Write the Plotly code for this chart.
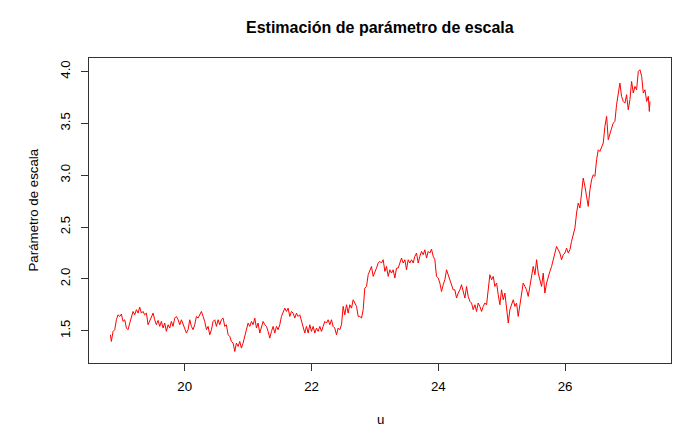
import plotly.graph_objects as go

# Threshold u and the estimated scale parameter at each threshold
u = [
    18.827, 18.842, 18.869, 18.895, 18.921, 18.947, 18.974, 19.000, 19.026, 19.053,
    19.079, 19.105, 19.132, 19.158, 19.184, 19.210, 19.237, 19.263, 19.289, 19.316,
    19.342, 19.368, 19.395, 19.421, 19.447, 19.474, 19.500, 19.526, 19.552, 19.579,
    19.605, 19.631, 19.658, 19.684, 19.710, 19.737, 19.763, 19.789, 19.815, 19.842,
    19.868, 19.894, 19.921, 19.947, 19.973, 20.000, 20.026, 20.052, 20.079, 20.105,
    20.131, 20.157, 20.184, 20.210, 20.236, 20.263, 20.289, 20.315, 20.342, 20.368,
    20.394, 20.421, 20.447, 20.473, 20.500, 20.526, 20.552, 20.578, 20.605, 20.631,
    20.657, 20.684, 20.710, 20.736, 20.763, 20.789, 20.815, 20.842, 20.868, 20.894,
    20.920, 20.947, 20.973, 20.999, 21.026, 21.052, 21.078, 21.105, 21.131, 21.157,
    21.184, 21.210, 21.236, 21.263, 21.289, 21.315, 21.341, 21.368, 21.394, 21.420,
    21.447, 21.473, 21.499, 21.526, 21.552, 21.578, 21.605, 21.631, 21.657, 21.683,
    21.710, 21.736, 21.762, 21.789, 21.815, 21.841, 21.868, 21.894, 21.920, 21.947,
    21.973, 21.999, 22.026, 22.052, 22.078, 22.104, 22.131, 22.157, 22.183, 22.210,
    22.236, 22.262, 22.289, 22.315, 22.341, 22.367, 22.394, 22.420, 22.446, 22.473,
    22.499, 22.525, 22.552, 22.578, 22.604, 22.631, 22.657, 22.683, 22.710, 22.736,
    22.762, 22.789, 22.815, 22.841, 22.868, 22.894, 22.920, 22.946, 22.973, 22.999,
    23.025, 23.052, 23.078, 23.104, 23.131, 23.157, 23.183, 23.210, 23.236, 23.262,
    23.288, 23.315, 23.341, 23.367, 23.394, 23.420, 23.446, 23.473, 23.499, 23.525,
    23.551, 23.578, 23.604, 23.630, 23.657, 23.683, 23.709, 23.736, 23.762, 23.788,
    23.815, 23.841, 23.867, 23.893, 23.920, 23.946, 23.972, 23.999, 24.025, 24.051,
    24.078, 24.104, 24.130, 24.157, 24.183, 24.209, 24.235, 24.262, 24.288, 24.314,
    24.341, 24.367, 24.393, 24.420, 24.446, 24.472, 24.499, 24.525, 24.551, 24.578,
    24.604, 24.630, 24.656, 24.683, 24.709, 24.735, 24.762, 24.788, 24.814, 24.841,
    24.867, 24.893, 24.920, 24.946, 24.972, 24.998, 25.025, 25.051, 25.077, 25.104,
    25.130, 25.156, 25.183, 25.209, 25.235, 25.261, 25.288, 25.314, 25.340, 25.367,
    25.393, 25.419, 25.446, 25.472, 25.498, 25.525, 25.551, 25.577, 25.603, 25.630,
    25.656, 25.682, 25.709, 25.735, 25.761, 25.788, 25.814, 25.840, 25.866, 25.893,
    25.919, 25.945, 25.972, 25.998, 26.024, 26.051, 26.077, 26.103, 26.130, 26.156,
    26.182, 26.208, 26.235, 26.261, 26.287, 26.314, 26.340, 26.366, 26.393, 26.419,
    26.445, 26.472, 26.498, 26.524, 26.550, 26.577, 26.603, 26.629, 26.656, 26.682,
    26.708, 26.735, 26.761, 26.787, 26.813, 26.840, 26.866, 26.892, 26.919, 26.945,
    26.971, 26.998, 27.024, 27.050, 27.077, 27.103, 27.129, 27.156, 27.182, 27.209,
    27.235, 27.261, 27.288, 27.314, 27.330, 27.340,
]

escala = [
    1.461, 1.397, 1.494, 1.510, 1.606, 1.654, 1.638, 1.661, 1.590, 1.606,
    1.526, 1.510, 1.574, 1.622, 1.686, 1.654, 1.703, 1.670, 1.728, 1.670,
    1.686, 1.654, 1.670, 1.558, 1.590, 1.638, 1.670, 1.606, 1.558, 1.600,
    1.542, 1.590, 1.526, 1.574, 1.494, 1.558, 1.526, 1.590, 1.542, 1.622,
    1.638, 1.606, 1.558, 1.606, 1.558, 1.526, 1.478, 1.510, 1.606, 1.542,
    1.510, 1.558, 1.638, 1.622, 1.654, 1.686, 1.638, 1.590, 1.510, 1.542,
    1.461, 1.510, 1.590, 1.606, 1.542, 1.606, 1.558, 1.606, 1.622, 1.542,
    1.558, 1.461, 1.445, 1.397, 1.381, 1.300, 1.381, 1.349, 1.397, 1.333,
    1.381, 1.445, 1.494, 1.574, 1.542, 1.590, 1.558, 1.622, 1.526, 1.574,
    1.478, 1.526, 1.590, 1.558, 1.542, 1.494, 1.429, 1.494, 1.542, 1.478,
    1.542, 1.510, 1.558, 1.638, 1.670, 1.718, 1.686, 1.718, 1.638, 1.686,
    1.670, 1.622, 1.670, 1.638, 1.654, 1.590, 1.526, 1.478, 1.542, 1.478,
    1.558, 1.494, 1.542, 1.478, 1.526, 1.494, 1.542, 1.494, 1.542, 1.590,
    1.574, 1.606, 1.558, 1.606, 1.542, 1.526, 1.461, 1.526, 1.510, 1.558,
    1.735, 1.654, 1.751, 1.670, 1.751, 1.718, 1.799, 1.767, 1.735, 1.638,
    1.638, 1.622, 1.703, 1.911, 1.927, 2.040, 2.088, 2.120, 2.024, 2.056,
    2.104, 2.153, 2.169, 2.153, 2.185, 2.072, 2.120, 2.024, 2.088, 2.056,
    2.088, 2.008, 2.104, 2.104, 2.153, 2.201, 2.153, 2.185, 2.088, 2.185,
    2.153, 2.185, 2.153, 2.217, 2.249, 2.153, 2.217, 2.265, 2.233, 2.281,
    2.201, 2.265, 2.249, 2.287, 2.217, 2.185, 2.024, 2.008, 1.960, 1.879,
    1.944, 1.992, 2.088, 2.040, 1.992, 1.960, 1.895, 1.895, 1.815, 1.863,
    1.895, 1.944, 1.863, 1.815, 1.927, 1.831, 1.783, 1.767, 1.703, 1.751,
    1.686, 1.767, 1.735, 1.686, 1.735, 1.767, 1.751, 1.895, 2.040, 1.992,
    2.024, 1.927, 1.960, 1.847, 1.751, 1.895, 1.799, 1.863, 1.735, 1.574,
    1.703, 1.751, 1.799, 1.735, 1.767, 1.638, 1.767, 1.863, 1.960, 1.927,
    1.895, 1.831, 1.927, 1.992, 2.120, 2.040, 2.185, 2.056, 1.976, 1.927,
    2.056, 1.863, 1.960, 2.024, 2.072, 2.120, 2.185, 2.233, 2.313, 2.281,
    2.249, 2.185, 2.233, 2.249, 2.297, 2.249, 2.281, 2.362, 2.442, 2.490,
    2.635, 2.731, 2.683, 2.860, 2.972, 2.892, 2.795, 2.699, 2.860, 2.956,
    3.004, 2.988, 3.149, 3.245, 3.229, 3.277, 3.310, 3.470, 3.567, 3.342,
    3.406, 3.454, 3.503, 3.519, 3.679, 3.776, 3.888, 3.760, 3.711, 3.695,
    3.776, 3.631, 3.728, 3.904, 3.792, 3.856, 3.824, 4.001, 4.017, 3.953,
    3.792, 3.824, 3.711, 3.760, 3.615, 3.711,
]

x_ticks = [20, 22, 24, 26]
y_ticks = [1.5, 2.0, 2.5, 3.0, 3.5, 4.0]
y_tick_text = ["1.5", "2.0", "2.5", "3.0", "3.5", "4.0"]

font_family = "Liberation Sans, Arial, sans-serif"
frame = "#333333"
text_size = 13.3

fig = go.Figure(
    go.Scatter(
        x=u,
        y=escala,
        mode="lines",
        line=dict(color="#FF0000", width=1),
        hoverinfo="x+y",
    )
)

fig.update_layout(
    width=690,
    height=428,
    margin=dict(l=89, r=19, t=58, b=65),
    paper_bgcolor="white",
    plot_bgcolor="white",
    showlegend=False,
    font=dict(family=font_family, size=text_size, color="black"),
    xaxis=dict(
        range=[18.489, 27.672],
        tickvals=x_ticks,
        ticks="outside",
        ticklen=7,
        tickwidth=1,
        tickcolor=frame,
        showline=True,
        linecolor=frame,
        linewidth=1,
        mirror=True,
        showgrid=False,
        zeroline=False,
        tickfont=dict(size=text_size, color="black"),
        ticklabelstandoff=4,
    ),
    yaxis=dict(
        range=[1.189, 4.130],
        tickvals=y_ticks,
        ticktext=y_tick_text,
        tickangle=-90,
        ticks="outside",
        ticklen=7,
        tickwidth=1,
        tickcolor=frame,
        showline=True,
        linecolor=frame,
        linewidth=1,
        mirror=True,
        showgrid=False,
        zeroline=False,
        tickfont=dict(size=text_size, color="black"),
        ticklabelstandoff=6,
    ),
    annotations=[
        dict(
            text="<b>Estimación de parámetro de escala</b>",
            xref="paper", yref="paper", x=0.5, y=1,
            xanchor="center", yanchor="middle", yshift=31,
            showarrow=False, font=dict(size=16, family=font_family, color="black"),
        ),
        dict(
            text="u",
            xref="paper", yref="paper", x=0.5, y=0,
            xanchor="center", yanchor="middle", yshift=-56,
            showarrow=False, font=dict(size=text_size, family=font_family, color="black"),
        ),
        dict(
            text="Parámetro de escala",
            xref="paper", yref="paper", x=0, y=0.5,
            xanchor="center", yanchor="middle", xshift=-56,
            textangle=-90,
            showarrow=False, font=dict(size=text_size, family=font_family, color="black"),
        ),
    ],
)

fig.write_html("out.html")
